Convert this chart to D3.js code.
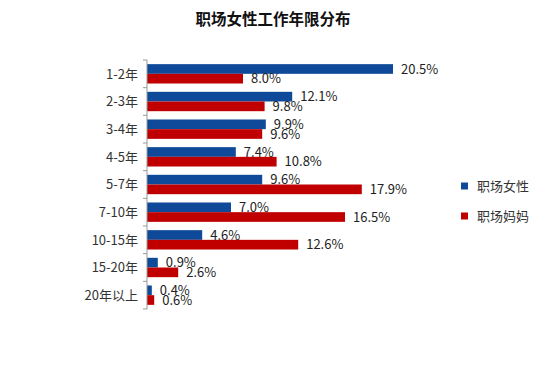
<!DOCTYPE html>
<html><head><meta charset="utf-8">
<script src="https://cdn.jsdelivr.net/npm/d3@7"></script>
<style>body{margin:0;background:#fff;} svg{display:block;}</style>
</head><body>
<svg id="c" width="550" height="381"></svg>
<script>
const categories = ["1-2年","2-3年","3-4年","4-5年","5-7年","7-10年","10-15年","15-20年","20年以上"];
const seriesNames = ["职场女性","职场妈妈"];
const womenValues = [20.5,12.1,9.9,7.4,9.6,7.0,4.6,0.9,0.4];
const momValues = [8.0,9.8,9.6,10.8,17.9,16.5,12.6,2.6,0.6];
const colors = ["#0E4A99","#C00000"];
const font = "'Microsoft YaHei','Noto Sans CJK SC','Noto Sans',sans-serif";

const svg = d3.select("#c");
const plotLeft = 147, plotTop = 60, plotBottom = 309;
const x = d3.scaleLinear().domain([0,25]).range([plotLeft, plotLeft+300]);
const y = d3.scaleBand().domain(categories).range([plotTop,plotBottom]).paddingInner(0.3).paddingOuter(0.15);
const y2 = d3.scaleBand().domain([0,1]).range([0,y.bandwidth()]);

svg.append("text").attr("x",273).attr("y",25).attr("text-anchor","middle")
  .attr("font-family",font).attr("font-size",15.5).attr("font-weight","bold").attr("fill","#111")
  .text("职场女性工作年限分布");

const data = [womenValues, momValues];
data.forEach((vals,si)=>{
  const g = svg.append("g");
  g.selectAll("rect").data(vals).join("rect")
    .attr("x",x(0)).attr("y",(d,i)=>y(categories[i])+y2(si))
    .attr("width",d=>x(d)-x(0)).attr("height",y2.bandwidth())
    .attr("fill",colors[si]);
  g.selectAll("text").data(vals).join("text")
    .attr("x",d=>x(d)+8).attr("y",(d,i)=>y(categories[i])+y2(si)+y2.bandwidth()/2)
    .attr("dy","0.36em").attr("font-family",font).attr("font-size",13).attr("fill","#222")
    .text(d=>d.toFixed(1)+"%");
});

// axis
const yAxisBand = d3.scaleBand().domain(categories).range([plotTop,plotBottom]);
const ax = svg.append("g").attr("transform",`translate(${plotLeft},0)`);
ax.append("line").attr("x1",0).attr("x2",0).attr("y1",plotTop).attr("y2",plotBottom).attr("stroke","#999");
const ticks = d3.range(categories.length+1).map(i=>plotTop+i*yAxisBand.step());
ax.selectAll("line.t").data(ticks).join("line").attr("class","t")
  .attr("x1",-4).attr("x2",0).attr("y1",d=>d).attr("y2",d=>d).attr("stroke","#999");
ax.selectAll("text").data(categories).join("text")
  .attr("x",-9).attr("y",d=>yAxisBand(d)+yAxisBand.bandwidth()/2).attr("dy","0.36em")
  .attr("text-anchor","end").attr("font-family",font).attr("font-size",13).attr("fill","#333")
  .text(d=>d);

// legend
const lg = svg.append("g");
seriesNames.forEach((n,i)=>{
  const cy = 186 + i*30;
  lg.append("rect").attr("x",461).attr("y",cy-3.5).attr("width",7).attr("height",7).attr("fill",colors[i]);
  lg.append("text").attr("x",477).attr("y",cy).attr("dy","0.36em").attr("font-family",font)
    .attr("font-size",13).attr("fill","#333").text(n);
});
</script>
</body></html>
